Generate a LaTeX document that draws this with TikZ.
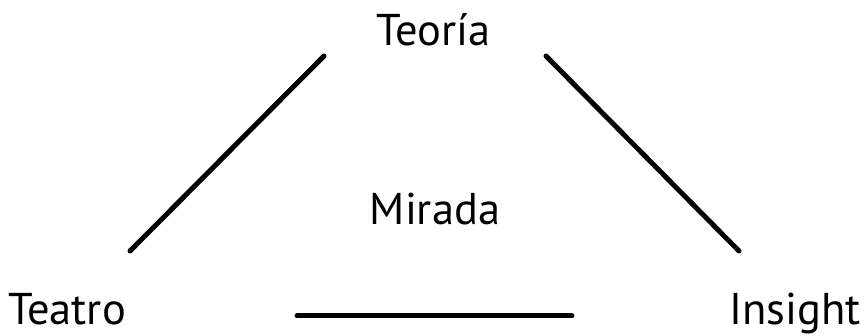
\documentclass[tikz,border=0pt]{standalone}
\usepackage{fontspec}
\setmainfont{PT Sans}
\begin{document}
\begin{tikzpicture}[x=1pt,y=1pt,
  lbl/.style={anchor=base,inner sep=0pt,font=\fontsize{44.5}{50}\selectfont},
  edge/.style={line width=5pt,line cap=round}]
\useasboundingbox (0,0) rectangle (865,336);
\node[lbl] (teoria) at (433.5,290) {Teoría};
\node[lbl] (mirada) at (435,111) {Mirada};
\node[lbl] (teatro) at (67,11) {Teatro};
\node[lbl] (insight) at (795,11) {Insight};
\coordinate (l1) at (130,85);
\coordinate (l2) at (324,280);
\coordinate (r1) at (546,280);
\coordinate (r2) at (739,85);
\coordinate (b1) at (297,20);
\coordinate (b2) at (572,20);
\draw[edge] (l1) -- (l2);
\draw[edge] (r1) -- (r2);
\draw[edge] (b1) -- (b2);
\end{tikzpicture}
\end{document}
